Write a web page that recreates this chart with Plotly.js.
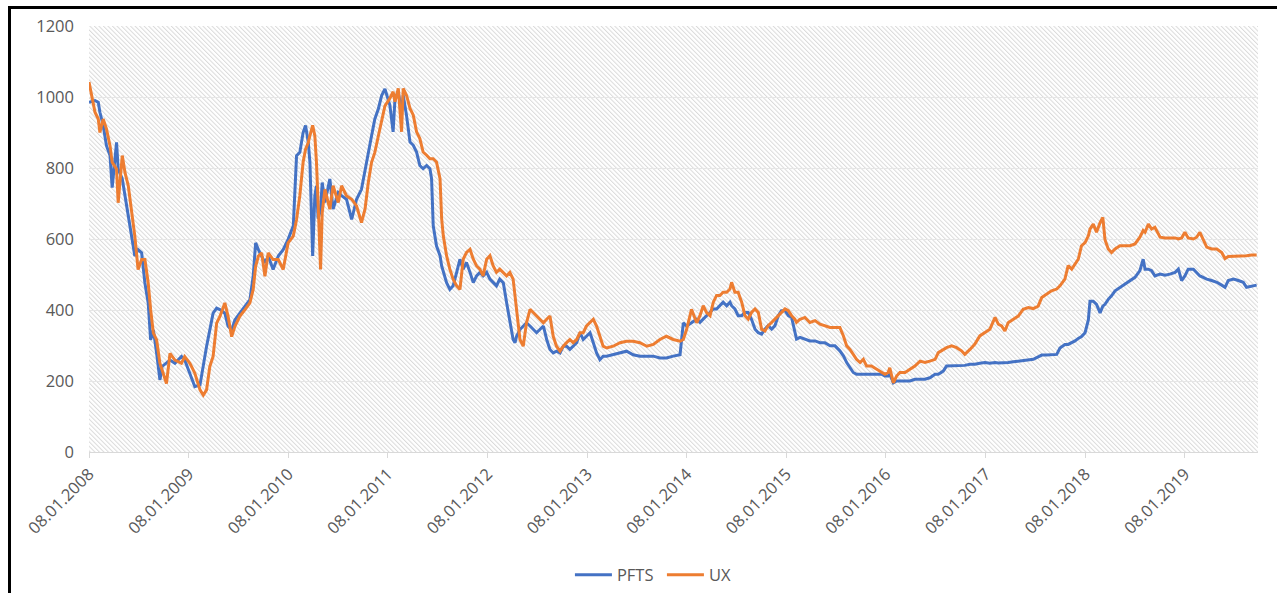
<!DOCTYPE html>
<html>
<head>
<meta charset="utf-8">
<script src="https://cdn.plot.ly/plotly-3.0.1.min.js"></script>
<style>
  html, body { margin: 0; padding: 0; background: #ffffff; }
  #wrap { position: relative; width: 1277px; height: 593px; overflow: hidden; }
  #chart { position: absolute; left: 0; top: 0; width: 1277px; height: 593px; }
  #frame { position: absolute; left: 8px; top: 6px; right: -10px; bottom: -10px;
           border-top: 3px solid #000; border-left: 3px solid #000; pointer-events: none; }
</style>
</head>
<body>
<div id="wrap"><div id="chart"></div><div id="frame"></div></div>
<script>
const seriesNames = ["PFTS", "UX"];
const dates = [
"2008-01-08","2008-01-30","2008-02-11","2008-02-17","2008-02-29","2008-03-12","2008-03-25","2008-04-02","2008-04-18","2008-04-24",
"2008-05-09","2008-05-19","2008-05-31","2008-06-12","2008-06-24","2008-07-06","2008-07-19","2008-07-31","2008-08-12","2008-08-21",
"2008-08-31","2008-09-12","2008-09-24","2008-10-02","2008-10-18","2008-10-31","2008-11-18","2008-12-12","2008-12-24","2009-01-12",
"2009-01-30","2009-02-18","2009-03-02","2009-03-14","2009-03-26","2009-04-07","2009-04-20","2009-05-02","2009-05-20","2009-06-01",
"2009-06-14","2009-06-26","2009-07-14","2009-08-02","2009-08-20","2009-09-01","2009-09-10","2009-09-20","2009-10-02","2009-10-14",
"2009-10-26","2009-11-13","2009-12-02","2009-12-20","2010-01-07","2010-01-26","2010-02-07","2010-02-19","2010-03-03","2010-03-12",
"2010-03-22","2010-03-28","2010-04-07","2010-04-15","2010-04-21","2010-04-27","2010-05-06","2010-05-12","2010-05-22","2010-06-09",
"2010-06-21","2010-07-10","2010-07-22","2010-08-09","2010-08-28","2010-09-15","2010-10-03","2010-10-16","2010-10-28","2010-11-09",
"2010-11-21","2010-12-04","2010-12-16","2010-12-28",
"2011-01-15","2011-01-27","2011-02-03","2011-02-15","2011-02-27","2011-03-05","2011-03-17","2011-03-30","2011-04-11","2011-04-23",
"2011-05-05","2011-05-17","2011-05-30","2011-06-11","2011-06-17","2011-06-23","2011-07-05","2011-07-18","2011-07-24","2011-07-30",
"2011-08-11","2011-08-23","2011-09-04","2011-09-17","2011-09-29","2011-10-11","2011-10-23","2011-11-05","2011-11-17","2011-11-29",
"2011-12-11","2011-12-23","2012-01-05","2012-01-17","2012-01-29","2012-02-10","2012-02-22","2012-03-06","2012-03-18","2012-03-30",
"2012-04-11","2012-04-18","2012-04-24","2012-05-06","2012-05-18","2012-05-30","2012-06-12","2012-06-24","2012-07-06","2012-07-18",
"2012-07-31","2012-08-12","2012-08-24","2012-09-05","2012-09-17","2012-09-30","2012-10-12","2012-10-24","2012-11-05","2012-11-17",
"2012-11-30","2012-12-12","2012-12-24","2013-01-05","2013-01-18","2013-01-30","2013-02-11","2013-02-23","2013-03-07","2013-03-20",
"2013-04-13","2013-05-08","2013-06-01","2013-06-25","2013-07-20","2013-08-14","2013-09-07","2013-10-01","2013-10-25","2013-11-19",
"2013-12-14","2013-12-26","2014-01-07","2014-01-25","2014-02-13",
"2014-02-25","2014-03-09","2014-03-21","2014-04-03","2014-04-15","2014-04-27","2014-05-09","2014-05-21","2014-06-03","2014-06-15",
"2014-06-21","2014-07-03","2014-07-15","2014-07-28","2014-08-09","2014-08-21","2014-09-02","2014-09-15","2014-09-27","2014-10-09",
"2014-10-21","2014-11-02","2014-11-15","2014-11-27","2014-12-09","2014-12-21","2015-01-03","2015-01-15","2015-01-27","2015-02-08",
"2015-02-14","2015-02-27","2015-03-17","2015-04-04","2015-04-23","2015-05-11","2015-05-29","2015-06-17","2015-07-05","2015-07-23",
"2015-08-05","2015-08-17","2015-08-29","2015-09-10","2015-09-22","2015-10-05","2015-10-17","2015-10-29","2015-11-16","2015-12-05",
"2015-12-23","2016-01-04","2016-01-16","2016-01-22","2016-02-04","2016-02-16","2016-02-28","2016-03-18","2016-04-05","2016-04-23",
"2016-05-12","2016-05-30","2016-06-17","2016-07-06","2016-07-18","2016-08-05","2016-08-17","2016-09-05","2016-09-23","2016-10-11",
"2016-10-23","2016-11-11","2016-11-29","2016-12-17","2017-01-05","2017-01-23","2017-02-11",
"2017-02-23","2017-03-07","2017-03-19","2017-03-31","2017-04-19","2017-05-07","2017-05-25","2017-06-13","2017-07-01","2017-07-19",
"2017-08-01","2017-08-19","2017-09-06","2017-09-25","2017-10-07","2017-10-25","2017-11-06","2017-11-19","2017-12-01","2017-12-13",
"2017-12-25","2018-01-07","2018-01-19","2018-01-25","2018-02-06","2018-02-18","2018-03-03","2018-03-13","2018-03-21","2018-04-02",
"2018-04-14","2018-04-27","2018-05-15","2018-06-02","2018-06-21","2018-07-09","2018-07-27","2018-08-08","2018-08-15","2018-08-27",
"2018-09-08","2018-09-20","2018-10-09","2018-10-27","2018-11-14","2018-12-03","2018-12-15","2018-12-27","2019-01-08","2019-01-20",
"2019-02-08","2019-02-20","2019-03-04","2019-03-16","2019-03-29","2019-04-16","2019-05-05","2019-05-23","2019-06-04","2019-06-16",
"2019-07-05","2019-07-23","2019-08-10","2019-08-22","2019-09-10","2019-09-28"
];
const pfts = [
985,990,985,957,920,863,835,745,872,797,
769,721,665,618,552,570,561,476,420,316,
344,278,203,241,250,259,250,269,259,222,
184,189,250,297,344,391,405,401,391,354,
344,372,391,410,429,495,589,570,552,533,
552,514,552,570,599,637,835,844,900,920,
872,816,552,722,750,657,683,759,703,769,
684,731,722,712,655,712,740,797,844,891,
938,967,1004,1023,
977,902,996,1015,958,1005,949,873,864,845,
807,798,807,798,770,638,581,553,524,506,
477,458,468,506,543,515,534,506,477,496,
506,496,506,487,477,468,487,477,421,374,
317,308,327,345,355,364,355,345,336,345,
355,317,289,279,284,279,298,298,289,298,
308,336,317,326,336,308,279,260,270,270,
274,279,284,274,270,270,270,265,265,270,
274,364,355,364,374,
365,374,384,393,403,403,412,422,412,422,
412,403,384,384,393,393,374,346,336,332,
346,356,346,356,384,398,398,384,379,337,
318,323,318,313,313,308,308,299,299,285,
271,252,238,224,219,219,219,219,219,219,
219,214,214,219,195,200,200,200,200,205,
205,205,209,219,219,228,242,242,242,244,
244,247,247,250,252,250,252,
251,251,251,252,254,256,257,259,261,268,
273,273,275,275,293,303,303,308,313,320,
325,336,372,425,425,416,392,411,416,430,
440,454,464,473,483,492,511,543,515,515,
511,496,501,498,501,506,515,483,496,515,
515,506,496,492,487,483,478,470,464,483,
487,483,478,464,468,470
];
const ux = [
1042,957,938,900,938,910,863,816,797,702,
835,787,750,684,608,514,542,542,476,401,
335,316,250,231,193,278,259,250,269,250,
222,175,160,175,241,269,363,382,420,382,
325,354,382,401,420,458,523,552,561,495,
561,542,542,514,589,608,655,722,816,853,
872,891,920,891,816,702,514,674,740,684,
750,703,750,722,712,693,646,684,759,816,
844,891,938,975,
996,1015,987,1024,902,1024,1005,968,949,902,
883,845,836,826,826,826,817,770,657,609,
553,515,487,468,458,543,562,571,543,524,
515,496,543,553,524,506,515,506,496,506,
487,440,392,317,298,364,402,392,383,374,
364,374,383,326,298,284,298,308,317,308,
317,336,336,355,364,374,355,326,298,293,
298,308,312,312,308,298,303,317,326,317,
312,317,345,402,364,
384,412,393,384,422,441,441,450,450,459,
478,450,450,422,384,374,393,403,393,346,
341,356,365,374,384,393,403,398,384,374,
365,374,379,365,370,360,356,351,351,351,
327,299,289,275,261,252,261,242,242,233,
224,219,224,237,195,214,224,224,233,242,
256,252,256,261,280,289,294,299,294,285,
275,289,304,327,337,346,379,
360,355,341,364,374,383,402,407,404,411,
435,445,454,459,468,487,525,515,529,543,
581,590,609,628,642,619,646,661,598,572,
562,572,581,581,581,586,605,624,619,642,
628,633,605,603,603,603,600,603,619,603,
600,605,619,600,577,572,572,562,545,551,
551,553,553,553,555,555
];
const yTicks = [0, 200, 400, 600, 800, 1000, 1200];
const xTickDates = ["2008-01-08","2009-01-08","2010-01-08","2011-01-08","2012-01-08","2013-01-08",
                    "2014-01-08","2015-01-08","2016-01-08","2017-01-08","2018-01-08","2019-01-08"];
const xRange = ["2008-01-08", "2019-10-03"];
const colors = ["#4472C4", "#ED7D31"];

const hatchSvg = "<svg xmlns='http://www.w3.org/2000/svg' width='1169' height='426'>" +
  "<defs><pattern id='h' width='3.2' height='3.2' patternUnits='userSpaceOnUse' patternTransform='rotate(-45)'>" +
  "<rect x='0' y='0' width='1' height='3.2' fill='#dadada'/></pattern></defs>" +
  "<rect width='100%' height='100%' fill='#ffffff'/><rect width='100%' height='100%' fill='url(#h)'/></svg>";
const hatchUri = "data:image/svg+xml;charset=utf-8," + encodeURIComponent(hatchSvg);

const tickFont = {family: "Open Sans, sans-serif", size: 16.5, color: "#595959"};

const traces = [
  {x: dates, y: pfts, name: seriesNames[0], type: "scatter", mode: "lines",
   line: {color: colors[0], width: 3}},
  {x: dates, y: ux, name: seriesNames[1], type: "scatter", mode: "lines",
   line: {color: colors[1], width: 3}}
];

const layout = {
  width: 1277, height: 593,
  margin: {l: 89, r: 19, t: 26, b: 141, pad: 0},
  paper_bgcolor: "rgba(0,0,0,0)",
  plot_bgcolor: "rgba(0,0,0,0)",
  font: tickFont,
  showlegend: true,
  legend: {orientation: "h", xref: "container", yref: "container",
           x: 0.4463, xanchor: "left", y: 0.0304, yanchor: "middle",
           font: tickFont, bgcolor: "rgba(0,0,0,0)", itemwidth: 37, entrywidth: 40,
           tracegroupgap: 0},
  xaxis: {
    type: "date", range: xRange, tickmode: "array", tickvals: xTickDates, automargin: false,
    tickformat: "%d.%m.%Y", tickangle: -45, tickfont: tickFont,
    showgrid: false, showline: true, linecolor: "#d9d9d9", linewidth: 1,
    ticks: "outside", ticklen: 5, tickcolor: "#d9d9d9", zeroline: false
  },
  yaxis: {
    range: [0, 1200], tickmode: "array", tickvals: yTicks, tickfont: tickFont, automargin: false,
    showgrid: true, gridcolor: "#e6e6e6", gridwidth: 1, zeroline: false,
    showline: false, ticks: "", ticklabelstandoff: 14
  },
  images: [{source: hatchUri, xref: "paper", yref: "paper", x: 0, y: 1, sizex: 1, sizey: 1,
            xanchor: "left", yanchor: "top", sizing: "stretch", layer: "below"}]
};

Plotly.newPlot("chart", traces, layout, {displayModeBar: false, staticPlot: true});
</script>
</body>
</html>
